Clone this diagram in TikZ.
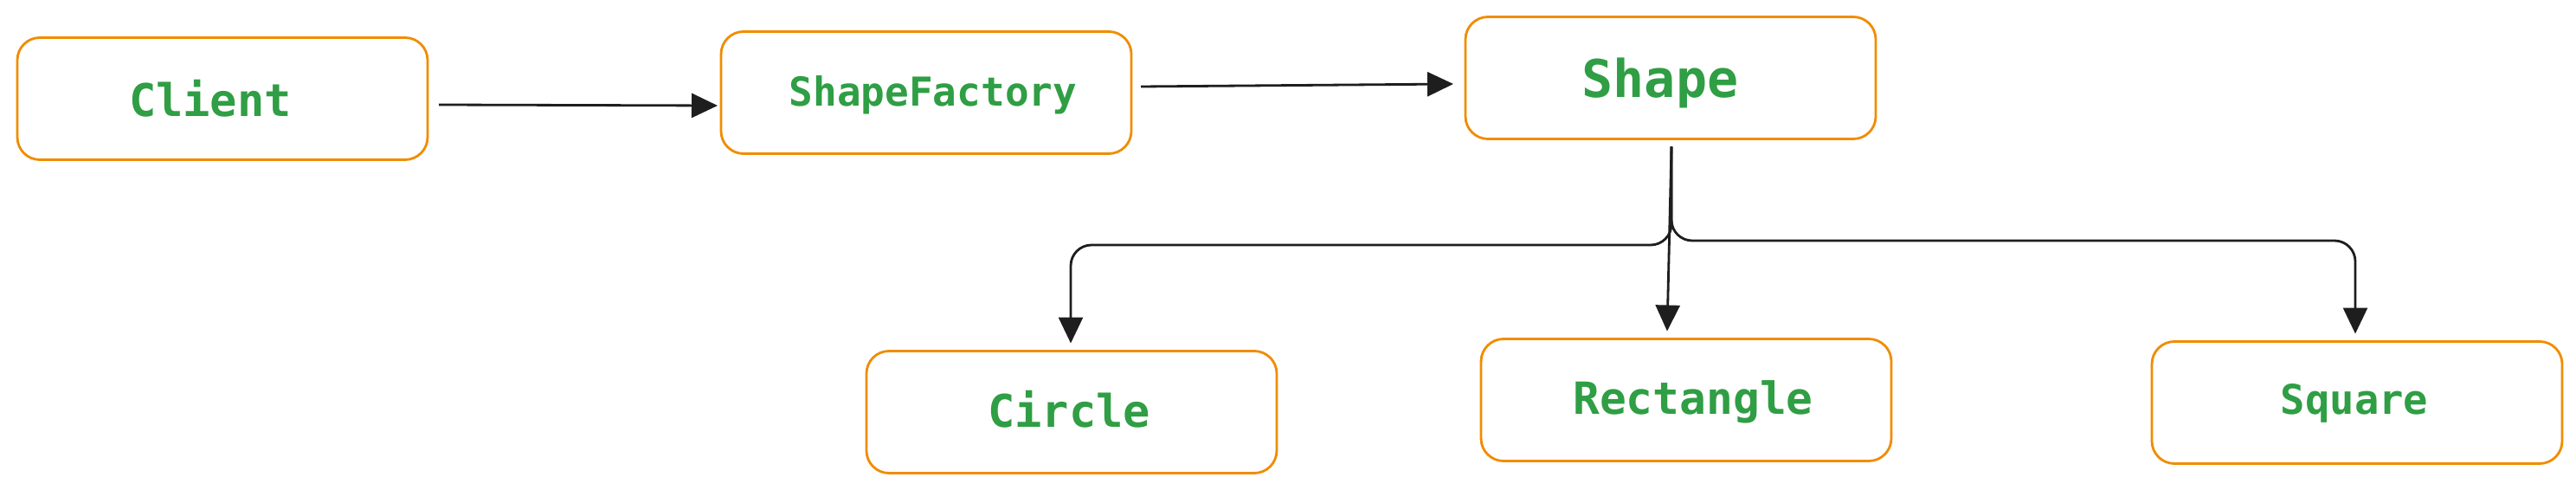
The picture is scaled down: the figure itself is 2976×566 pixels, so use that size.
\documentclass[tikz,border=0pt]{standalone}
\usepackage{fontspec}
\newfontfamily\labelfont{DejaVu Sans Mono}
\usetikzlibrary{arrows.meta}
\definecolor{boxorange}{HTML}{F08C00}
\definecolor{textgreen}{HTML}{2F9E44}
\definecolor{inkline}{HTML}{1E1E1E}
\begin{document}
\begin{tikzpicture}[x=0.25pt,y=-0.25pt,
  box/.style={draw=boxorange, line width=0.7pt, rounded corners=6.5pt, minimum width=118.5pt, minimum height=35.25pt, inner sep=0pt, outer sep=0pt, fill=white},
  lbl/.style={anchor=base, inner sep=0pt, text=textgreen},
  arr/.style={draw=inkline, line width=0.7pt, -{Triangle[length=7.5pt,width=7pt]}},
  branch/.style={arr, rounded corners=6pt}]
\useasboundingbox[fill=white] (0,0) rectangle (2976,566);
% boxes
\node[box] (client) at (257,114) {};
\node[box] (factory) at (1070,107) {};
\node[box] (shape) at (1930,90) {};
\node[box] (circle) at (1238,476) {};
\node[box] (rect) at (1948,462) {};
\node[box] (square) at (2723,465) {};
% labels
\node[lbl, font=\labelfont\bfseries\fontsize{13pt}{15pt}\selectfont] (tclient) at (243,135) {Client};
\node[lbl, font=\labelfont\bfseries\fontsize{11.5pt}{14pt}\selectfont] (tfactory) at (1078,123) {ShapeFactory};
\node[lbl, font=\labelfont\bfseries\fontsize{15pt}{18pt}\selectfont] (tshape) at (1918,113) {Shape};
\node[lbl, font=\labelfont\bfseries\fontsize{13pt}{15pt}\selectfont] (tcircle) at (1235,493) {Circle};
\node[lbl, font=\labelfont\bfseries\fontsize{12.8pt}{15pt}\selectfont] (trect) at (1956,478) {Rectangle};
\node[lbl, font=\labelfont\bfseries\fontsize{11.8pt}{14pt}\selectfont] (tsquare) at (2720,478) {Square};
% connectors
\draw[arr] ([shift={(13,7)}]client.east) -- ([shift={(-4,15)}]factory.west);
\draw[arr] ([shift={(11,-7)}]factory.east) -- ([shift={(-14,7)}]shape.west);
\coordinate (ltop) at ([shift={(1,9)}]shape.south);
\coordinate (ljoin) at (1931,283);
\coordinate (rjoin) at (1931,278);
\draw[branch] (ltop) -- (ljoin) -| ([shift={(-1,-9)}]circle.north);
\draw[arr] (ltop) -- ([shift={(-22,-9)}]rect.north);
\draw[branch] (ltop) -- (rjoin) -| ([shift={(-2,-9)}]square.north);
\end{tikzpicture}
\end{document}
